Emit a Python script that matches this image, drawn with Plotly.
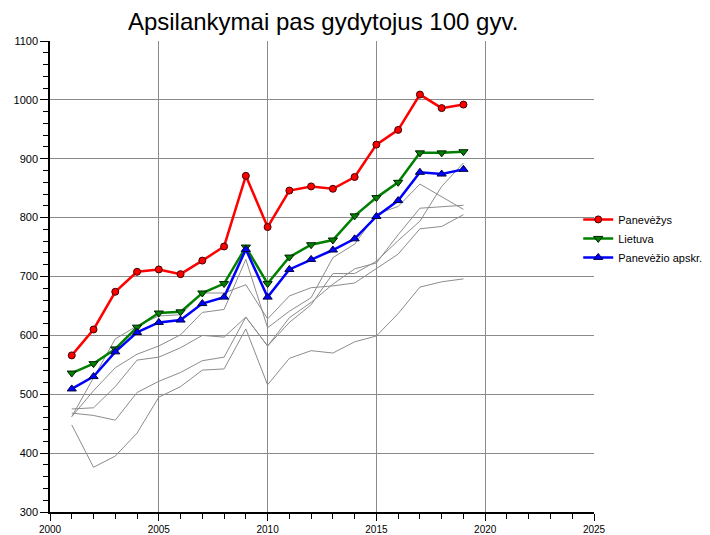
import plotly.graph_objects as go

years = list(range(2001, 2020))

panevezys = [566, 610, 674, 708, 712, 704, 727, 751, 871, 784, 846, 853, 849, 869, 924, 949, 1009, 986, 992]
lietuva = [536, 552, 577, 614, 638, 640, 672, 688, 750, 688, 733, 754, 762, 803, 834, 860, 910, 910, 912]
apskritis = [509, 530, 572, 605, 622, 626, 654, 665, 746, 665, 712, 729, 745, 764, 802, 829, 877, 874, 882]

# kitos apskrities savivaldybes (pilkos linijos)
kitos = [
    [462, 528, 594, 616, 633, 635, 672, 672, 686, 628, 667, 681, 684, 689, 714, 738, 781, 785, 805],
    [462, 506, 545, 568, 582, 601, 639, 644, 729, 613, 641, 664, 732, 755, 806, 819, 857, 836, 814],
    [475, 477, 513, 558, 563, 579, 600, 597, 631, 582, 630, 656, 687, 713, 723, 771, 816, 819, 821],
    [468, 464, 456, 503, 522, 537, 557, 563, 631, 582, 622, 652, 705, 705, 726, 761, 794, 853, 893],
    [448, 376, 395, 434, 495, 513, 541, 543, 611, 516, 561, 574, 570, 589, 599, 637, 682, 691, 696],
]

fig = go.Figure()

for s in kitos:
    fig.add_trace(go.Scatter(x=years, y=s, mode='lines', showlegend=False,
                             line=dict(color='#8c8c8c', width=1), hoverinfo='skip'))

fig.add_trace(go.Scatter(x=years, y=panevezys, mode='lines+markers', name='Panevėžys',
                         line=dict(color='#ff0000', width=2.5),
                         marker=dict(symbol='circle', size=7, color='#ff0000',
                                     line=dict(color='#400000', width=1))))
fig.add_trace(go.Scatter(x=years, y=lietuva, mode='lines+markers', name='Lietuva',
                         line=dict(color='#008000', width=2.5),
                         marker=dict(symbol='triangle-down', size=8, color='#008000',
                                     line=dict(color='#002000', width=1))))
fig.add_trace(go.Scatter(x=years, y=apskritis, mode='lines+markers', name='Panevėžio apskr.',
                         line=dict(color='#0000ff', width=2.5),
                         marker=dict(symbol='triangle-up', size=8, color='#0000ff',
                                     line=dict(color='#000040', width=1))))

# the page has an 8px body margin, so the margins are shifted by that
fig.update_layout(
    width=710, height=535,
    margin=dict(l=42, r=124, t=33, b=31, autoexpand=False),
    paper_bgcolor='white', plot_bgcolor='white',
    font=dict(family='Liberation Sans, Arial, sans-serif', size=11, color='black'),
    title=dict(text='Apsilankymai pas gydytojus 100 gyv.', xref='paper', x=0.502, xanchor='center',
               yref='container', y=0.974, yanchor='middle', font=dict(size=24, color='black')),
    legend=dict(x=0.971, xanchor='left', y=0.652, yanchor='top', itemwidth=30,
                font=dict(size=11), bgcolor='rgba(0,0,0,0)', tracegroupgap=0),
)

fig.update_xaxes(range=[2000, 2025], dtick=5, tick0=2000, showgrid=True, automargin=False,
                 gridcolor='#8a8a8a', gridwidth=1, showline=True, linecolor='black',
                 linewidth=1.5, ticks='outside', ticklen=7, tickcolor='black',
                 tickfont=dict(size=10),
                 minor=dict(dtick=1, ticks='outside', ticklen=5, tickcolor='black', showgrid=False),
                 zeroline=False, mirror=False)
fig.update_yaxes(range=[300, 1100], dtick=100, tick0=300, showgrid=True, automargin=False,
                 gridcolor='#8a8a8a', gridwidth=1, showline=True, linecolor='black',
                 linewidth=1.5, ticks='outside', ticklen=8, tickcolor='black',
                 minor=dict(dtick=20, ticks='outside', ticklen=5, tickcolor='black', showgrid=False),
                 zeroline=False, mirror=False)

fig.write_html("out.html")
